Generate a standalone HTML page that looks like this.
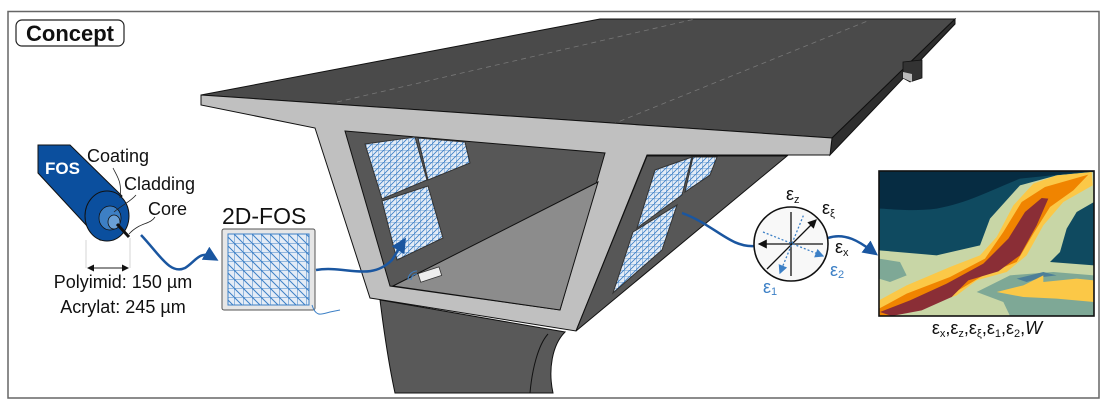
<!DOCTYPE html>
<html><head><meta charset="utf-8"><style>
html,body{margin:0;padding:0;background:#fff}
svg{display:block}
text{font-family:"Liberation Sans",sans-serif}
</style></head><body>
<svg width="1110" height="404" viewBox="0 0 1110 404" xmlns="http://www.w3.org/2000/svg">
<defs>
<pattern id="g" width="9" height="9" patternUnits="userSpaceOnUse">
<rect width="9" height="9" fill="#e4ecf6"/>
<path d="M0,0H9M0,0V9M0,0L9,9" stroke="#3d80c6" stroke-width="1" fill="none"/>
</pattern>
<pattern id="g2" width="6" height="6" patternUnits="userSpaceOnUse">
<rect width="6" height="6" fill="#e4ecf6"/>
<path d="M0,0H6M0,0V6M0,6L6,0" stroke="#3d80c6" stroke-width="0.8" fill="none"/>
</pattern>
<marker id="ab" markerWidth="6" markerHeight="6" refX="3" refY="3" orient="auto"><path d="M0,0L6,3L0,6Z" fill="#1a56a0"/></marker>
<marker id="ak" markerWidth="7" markerHeight="7" refX="6" refY="3.5" orient="auto-start-reverse"><path d="M0,0L7,3.5L0,7Z" fill="#111"/></marker>
<marker id="al" markerWidth="7" markerHeight="7" refX="6" refY="3.5" orient="auto-start-reverse"><path d="M0,0L7,3.5L0,7Z" fill="#3d80c6"/></marker>
</defs>
<rect x="8" y="11.5" width="1091" height="386.5" fill="#fff" stroke="#666" stroke-width="1.5"/>
<rect x="16" y="20" width="108" height="26" rx="6" fill="#fff" stroke="#222" stroke-width="1.2"/>
<text x="70" y="41" font-size="22" font-weight="bold" text-anchor="middle" fill="#111">Concept</text>

<!-- FOS cylinder -->
<path d="M38,145 L70,145 L122,196 L100,240 L38,173 Z" fill="#0b4f9e" stroke="#111" stroke-width="1"/>
<ellipse cx="107" cy="216" rx="22" ry="25" fill="#0b4f9e" stroke="#111" stroke-width="1"/>
<ellipse cx="110" cy="218" rx="11" ry="12" fill="#3d7fc4" stroke="#111" stroke-width="0.8"/>
<ellipse cx="114" cy="222" rx="6" ry="7" fill="#6aa0d6" stroke="#111" stroke-width="0.8"/>
<path d="M117,224 L129,237" stroke="#111" stroke-width="3"/>
<text x="45" y="174" font-size="17" font-weight="bold" fill="#fff">FOS</text>
<text x="87" y="162" font-size="18" fill="#111">Coating</text>
<text x="124" y="190" font-size="18" fill="#111">Cladding</text>
<text x="148" y="215" font-size="18" fill="#111">Core</text>
<path d="M113,168 C118,178 122,182 120,198" stroke="#222" stroke-width="0.8" fill="none"/>
<path d="M136,195 C130,202 122,205 114,212" stroke="#222" stroke-width="0.8" fill="none"/>
<path d="M155,217 C150,225 140,222 129,234" stroke="#222" stroke-width="0.8" fill="none"/>
<path d="M86,240V268M130,238V268" stroke="#ccc" stroke-width="0.8"/>
<path d="M88,268H128" stroke="#222" stroke-width="1" marker-start="url(#ak)" marker-end="url(#ak)"/>
<text x="123" y="288" font-size="18" text-anchor="middle" fill="#111">Polyimid: 150 µm</text>
<text x="123" y="313" font-size="18" text-anchor="middle" fill="#111">Acrylat: 245 µm</text>
<path d="M141,235 C160,255 170,275 185,268 C195,262 200,250 212,257" stroke="#1a56a0" stroke-width="2.5" fill="none" marker-end="url(#ab)"/>

<!-- 2D-FOS -->
<text x="222" y="224" font-size="23" fill="#111">2D-FOS</text>
<rect x="222" y="229" width="93" height="81" rx="2" fill="#e6e6e6" stroke="#555" stroke-width="1"/>
<rect x="228" y="234" width="81" height="71" fill="url(#g)" stroke="#3d80c6"/>
<path d="M312,305 C316,318 322,314 330,312 L340,310" stroke="#3d80c6" stroke-width="1" fill="none"/>

<!-- pier -->
<path d="M380,300 C385,340 390,370 395,393 L553,393 C548,370 552,345 565,332 Z" fill="#595959" stroke="#111" stroke-width="1"/>
<path d="M530,393 C532,370 538,345 548,334" stroke="#111" stroke-width="1" fill="none"/>

<!-- deck -->
<path d="M201,95 L600,19 L955,19 L832,138 Z" fill="#4a4a4a" stroke="#111" stroke-width="1"/>
<path d="M832,138 L955,19 L955,24 L830,155 Z" fill="#2e2e2e" stroke="#111" stroke-width="1"/>
<path d="M903,62 L922,60 L922,78 L910,82 L903,78 Z" fill="#333" stroke="#111" stroke-width="0.8"/>
<path d="M903,72 L912,74 L912,82 L903,78Z" fill="#bbb"/>
<path d="M337,102 L695,19 M603,128 L870,20" stroke="#777" stroke-width="0.8" stroke-dasharray="5,4"/>
<path d="M201,95 L832,138 L830,155 L647,155 L576,331 L370,298 L315,128 L201,105 Z" fill="#c0c0c0" stroke="#111" stroke-width="1"/>
<path d="M647,156 L787,156 L576,331 Z" fill="#575757" stroke="#111" stroke-width="1"/>
<path d="M345,131 L605,153 L560,310 L390,286 Z" fill="#575757" stroke="#111" stroke-width="1"/>
<path d="M393,286 L598,182 L560,310 Z" fill="#8c8c8c" stroke="#111" stroke-width="1"/>

<!-- panels -->
<path d="M365,144 L415,137 L427,180 L382,199 Z" fill="url(#g2)" stroke="#333" stroke-width="1"/>
<path d="M418,138 L465,142 L470,163 L428,180 Z" fill="url(#g2)" stroke="#333" stroke-width="1"/>
<path d="M382,201 L428,186 L443,238 L397,260 Z" fill="url(#g2)" stroke="#333" stroke-width="1"/>
<path d="M655,170 L692,157 L682,195 L637,228 Z" fill="url(#g2)" stroke="#333" stroke-width="1"/>
<path d="M693,157 L717,157 L710,175 L685,192 Z" fill="url(#g2)" stroke="#333" stroke-width="1"/>
<path d="M633,232 L677,205 L662,250 L613,293 Z" fill="url(#g2)" stroke="#333" stroke-width="1"/>
<rect x="419" y="270" width="22" height="9" fill="#eee" stroke="#333" stroke-width="0.8" transform="rotate(-18 430 275)"/>
<path d="M411,280 a6,6 0 0 1 6,-6 M408,280 a9,9 0 0 1 9,-9" stroke="#3d80c6" fill="none" stroke-width="1"/>
<path d="M316,270 C345,265 370,282 392,260 L402,244" stroke="#1a56a0" stroke-width="2.5" fill="none" marker-end="url(#ab)"/>
<path d="M682,213 C715,225 730,248 755,246" stroke="#1a56a0" stroke-width="2.5" fill="none"/>
<path d="M828,238 C845,232 860,242 872,251" stroke="#1a56a0" stroke-width="2.5" fill="none" marker-end="url(#ab)"/>

<!-- strain circle -->
<circle cx="791" cy="244" r="37" fill="#f8f8f8" stroke="#111" stroke-width="1.6"/>
<path d="M759,244H823M791,212V276M767,269L816,220" stroke="#111" stroke-width="1.3" marker-start="url(#ak)" marker-end="url(#ak)" fill="none"/>
<path d="M780,273L804,214M763,232L823,256" stroke="#3d80c6" stroke-width="1.3" stroke-dasharray="2,2" marker-start="url(#al)" marker-end="url(#al)" fill="none"/>
<text x="786" y="200" font-size="18" fill="#111">ε<tspan font-size="11" dy="3">z</tspan></text>
<text x="822" y="214" font-size="18" fill="#111">ε<tspan font-size="11" dy="3">ξ</tspan></text>
<text x="835" y="253" font-size="18" fill="#111">ε<tspan font-size="11" dy="3">x</tspan></text>
<text x="830" y="276" font-size="18" fill="#3d80c6">ε<tspan font-size="11" dy="2">2</tspan></text>
<text x="763" y="293" font-size="18" fill="#3d80c6">ε<tspan font-size="11" dy="2">1</tspan></text>

<!-- heatmap -->
<svg x="879" y="171" width="215" height="145" viewBox="27 17 645 435" preserveAspectRatio="none">
<rect x="27" y="17" width="645" height="435" fill="#0f4a60"/>
<path d="M27,17 H672 L450,40 C350,80 300,110 200,130 C120,140 60,130 27,130Z" fill="#062c42"/>
<path d="M27,255 L200,270 L330,240 L360,160 L450,60 L560,30 L672,20 L672,110 L620,140 L590,190 L570,260 L540,290 L672,300 L672,452 L27,452 Z" fill="#c8d6a6"/>
<path d="M320,380 L420,330 L550,320 L672,330 L672,452 L420,452 L400,410 Z" fill="#7ea896"/>
<path d="M27,280 L90,290 L110,330 L60,350 L27,340 Z" fill="#7ea896"/>
<path d="M440,340 L520,320 L560,330 L520,335 L470,350Z" fill="#4d7f98"/>
<path d="M380,380 L460,360 L520,330 L520,350 L620,340 L672,345 L672,410 L560,400 L460,395 Z" fill="#fbc847"/>
<path d="M27,405 L110,360 L240,305 L330,270 L380,215 L430,120 L490,55 L560,30 L665,20 L668,60 L580,110 L520,180 L470,270 L410,320 L320,345 L260,390 L200,410 L110,440 L27,452Z" fill="#fbc847"/>
<path d="M27,430 L110,385 L240,335 L345,280 L400,200 L455,110 L525,65 L655,28 L610,75 L540,125 L490,205 L440,290 L340,330 L270,372 L150,420 L70,452 L27,452Z" fill="#f08400"/>
<path d="M30,440 L120,405 L230,355 L340,295 L415,220 L465,140 L515,98 L535,100 L500,180 L450,270 L385,318 L295,345 L245,395 L155,435 L65,452Z" fill="#8a2e36"/>
</svg>
<rect x="879" y="171" width="215" height="145" fill="none" stroke="#111" stroke-width="1.6"/>
<text x="987" y="334" font-size="18" text-anchor="middle" fill="#111">ε<tspan font-size="11" dy="3">x</tspan><tspan dy="-3">,ε</tspan><tspan font-size="11" dy="3">z</tspan><tspan dy="-3">,ε</tspan><tspan font-size="11" dy="3">ξ</tspan><tspan dy="-3">,ε</tspan><tspan font-size="11" dy="3">1</tspan><tspan dy="-3">,ε</tspan><tspan font-size="11" dy="3">2</tspan><tspan dy="-3">,</tspan><tspan font-style="italic">W</tspan></text>
</svg>
</body></html>
